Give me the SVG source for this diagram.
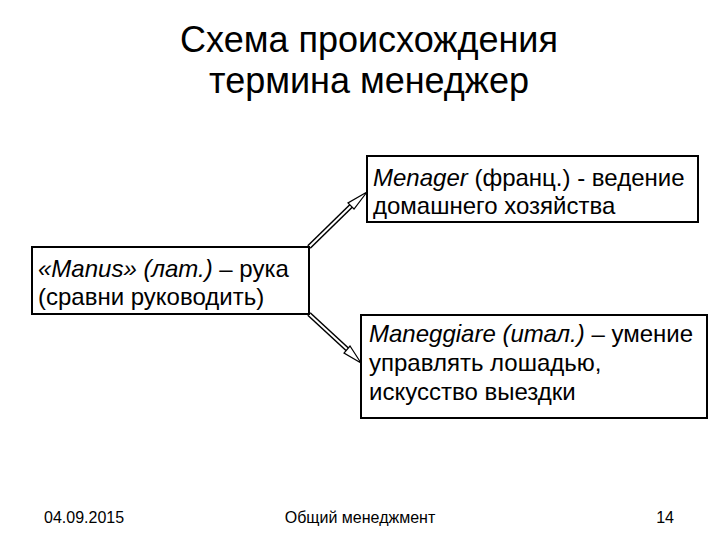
<svg xmlns="http://www.w3.org/2000/svg" width="720" height="540" viewBox="0 0 720 540">
<style>
text{font-family:"Liberation Sans",Arial,sans-serif;fill:#000}
.t{font-size:36px}
.b{font-size:24px}
.f{font-size:16px}
.box{fill:#fff;stroke:#000;stroke-width:2}
.outer{stroke:#000;stroke-width:5;fill:none}
.inner{stroke:#fff;stroke-width:2;fill:none}
.head{fill:#fff;stroke:#000;stroke-width:1.2}
</style>
<rect width="720" height="540" fill="#fff"/>
<g id="title">
<text class="t" x="369" y="52" text-anchor="middle">Схема происхождения</text>
<text class="t" x="369" y="93" text-anchor="middle">термина менеджер</text>
</g>
<g id="connectors">
<line class="outer" x1="309" y1="247" x2="352" y2="205"/>
<line class="inner" x1="309" y1="247" x2="352" y2="205"/>
<polygon class="head" points="367,192 348,203 354,209"/>
<line class="outer" x1="309" y1="314" x2="348" y2="350"/>
<line class="inner" x1="309" y1="314" x2="348" y2="350"/>
<polygon class="head" points="361,363 344,353 350,346"/>
</g>
<g id="node-menager">
<rect class="box" x="367" y="156" width="331" height="66"/>
<text class="b" x="373" y="186"><tspan font-style="italic">Menager</tspan> (франц.) - ведение</text>
<text class="b" x="373" y="214">домашнего хозяйства</text>
</g>
<g id="node-manus">
<rect class="box" x="32" y="247" width="277" height="67"/>
<text class="b" x="38" y="277"><tspan font-style="italic">«Manus» (лат.)</tspan> – рука</text>
<text class="b" x="38" y="305">(сравни руководить)</text>
</g>
<g id="node-maneggiare">
<rect class="box" x="361" y="315" width="346" height="103"/>
<text class="b" x="369" y="342"><tspan font-style="italic">Maneggiare (итал.)</tspan> – умение</text>
<text class="b" x="369" y="371">управлять лошадью,</text>
<text class="b" x="369" y="400">искусство выездки</text>
</g>
<g id="footer">
<text class="f" x="44" y="523">04.09.2015</text>
<text class="f" x="360" y="523" text-anchor="middle">Общий менеджмент</text>
<text class="f" x="674" y="523" text-anchor="end">14</text>
</g>
</svg>
